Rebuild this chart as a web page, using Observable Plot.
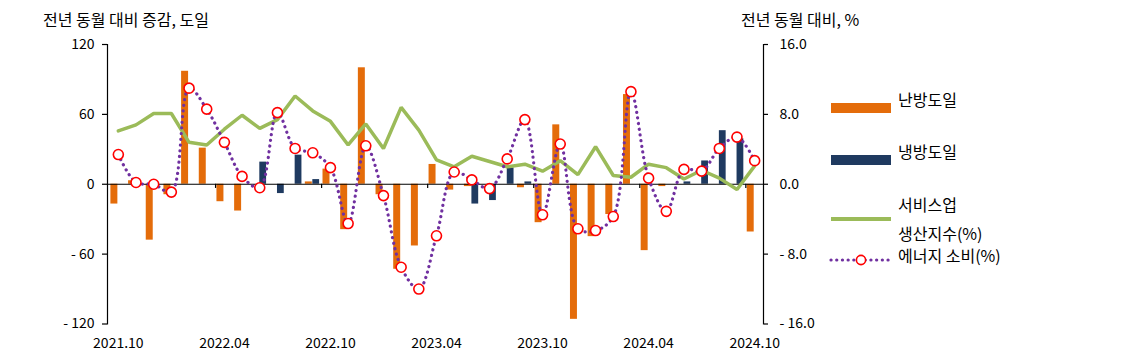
<!DOCTYPE html>
<html><head><meta charset="utf-8">
<script src="https://cdn.jsdelivr.net/npm/d3@7"></script>
<script src="https://cdn.jsdelivr.net/npm/@observablehq/plot@0.6"></script>
<style>
body{margin:0;background:#fff;font-family:"Noto Sans CJK KR","Noto Sans",sans-serif;}
#wrap{position:relative;width:1129px;height:363px;overflow:hidden;}
.t{position:absolute;font-size:16px;color:#000;white-space:nowrap;line-height:1;}
.sw{position:absolute;}
</style></head><body>
<div id="wrap"></div>
<script>
// ---- data ----
const months = ["2021.10","2021.11","2021.12","2022.01","2022.02","2022.03","2022.04","2022.05","2022.06","2022.07","2022.08","2022.09",
  "2022.10","2022.11","2022.12","2023.01","2023.02","2023.03","2023.04","2023.05","2023.06","2023.07","2023.08","2023.09",
  "2023.10","2023.11","2023.12","2024.01","2024.02","2024.03","2024.04","2024.05","2024.06","2024.07","2024.08","2024.09","2024.10"];
// 난방도일 (전년 동월 대비 증감, 도일)
const heating = [-17, 3, -48, -9, 97, 31, -15, -23, null, null, null, 2,
  13, -39, 100, -9, -73, -53, 17, -5, -2, null, null, -3,
  -33, 51, -116, -45, -26, 77, -57, -2, null, null, null, null, -41];
// 냉방도일 (전년 동월 대비 증감, 도일)
const cooling = [null, null, null, null, null, null, null, null, 19, -8, 25, 4,
  null, null, null, null, null, null, null, null, -17, -14, 14, 2,
  null, null, null, null, null, null, null, null, 2, 20, 46, 39, null];
// 서비스업 생산지수 (%)
const services = [6.1, 6.8, 8.1, 8.1, 4.8, 4.5, 6.3, 7.9, 6.4, 7.4, 10.1, 8.4,
  7.2, 4.5, 6.9, 4.1, 8.8, 6.2, 2.8, 2.0, 3.2, 2.6, 2.0, 2.3,
  1.5, 2.7, 1.1, 4.3, 1.0, 0.8, 2.3, 1.9, 0.6, 1.6, 0.7, -0.6, 2.1];
// 에너지 소비 (%)
const energy = [3.4, 0.2, 0.0, -0.9, 11.0, 8.6, 4.8, 0.9, -0.4, 8.2, 4.1, 3.6,
  1.9, -4.5, 4.4, -1.3, -9.5, -12.0, -5.9, 1.4, 0.5, -0.5, 2.9, 7.4,
  -3.5, 4.6, -5.1, -5.3, -3.7, 10.6, 0.7, -3.1, 1.7, 1.5, 4.1, 5.4, 2.7];
const labelMonths = ["2021.10","2022.04","2022.10","2023.04","2023.10","2024.04","2024.10"];
const boundaryMonths = ["2022.04","2022.10","2023.04","2023.10","2024.04","2024.10"];
const leftTicks = [-120, -60, 0, 60, 120];
const rightTicks = [-16, -8, 0, 8, 16];

// ---- colors ----
const cOrange = "#E46C0A", cNavy = "#1F3A60", cGreen = "#9BBB59", cPurple = "#7030A0", cRed = "#FF0000";

const k = 120 / 16; // right axis (%) -> left axis units
const rows = months.map((m, i) => ({m, heating: heating[i], cooling: cooling[i], services: services[i], energy: energy[i]}));

const W = 1129, H = 363, mL = 107, mR = 366, mT = 44, mB = 39.5, inL = 2;
const bw = (W - mR - mL - inL) / months.length;

const fmtL = d => d < 0 ? "- " + Math.abs(d) : String(d);
const fmtR = v => { const d = v / k; return d < 0 ? "- " + Math.abs(d).toFixed(1) : d.toFixed(1); };

const chart = Plot.plot({
  width: W, height: H,
  marginLeft: mL, marginRight: mR, marginTop: mT, marginBottom: mB,
  style: {fontFamily: '"Noto Sans CJK KR","Noto Sans",sans-serif', fontSize: "14px", color: "#000", background: "transparent"},
  x: {type: "band", domain: months, padding: 0, round: false, insetLeft: inL, axis: null},
  y: {domain: [-120, 120], axis: null},
  marks: [
    Plot.barY(rows.filter(d => d.heating != null), {x: "m", y: "heating", fill: cOrange, insetLeft: 1.4, insetRight: 9.3}),
    Plot.barY(rows.filter(d => d.cooling != null), {x: "m", y: "cooling", fill: cNavy, insetLeft: 8.9, insetRight: 2.0}),
    Plot.ruleY([0], {stroke: "#000", strokeWidth: 1.2}),
    Plot.ruleX(boundaryMonths, {x: d => d, y1: 0, y2: -3.6, dx: -bw / 2, stroke: "#000", strokeWidth: 1.2}),
    Plot.line(rows, {x: "m", y: d => d.services * k, stroke: cGreen, strokeWidth: 3.5, strokeLinejoin: "miter"}),
    Plot.line(rows, {x: "m", y: d => d.energy * k, stroke: cPurple, strokeWidth: 3.2, strokeDasharray: "0.1 5.6", strokeLinecap: "round", curve: "catmull-rom"}),
    Plot.dot(rows, {x: "m", y: d => d.energy * k, r: 5, fill: "#fff", stroke: cRed, strokeWidth: 1.6}),
    Plot.frame({anchor: "left", stroke: "#000", strokeWidth: 1.2}),
    Plot.frame({anchor: "right", stroke: "#000", strokeWidth: 1.2}),
    Plot.axisY({anchor: "left", ticks: leftTicks, tickFormat: fmtL, tickSize: 5, tickPadding: 8, label: null, strokeWidth: 1.2}),
    Plot.axisY({anchor: "right", ticks: rightTicks.map(d => d * k), tickFormat: fmtR, tickSize: 4, tickPadding: 12, label: null, strokeWidth: 1.2}),
    Plot.axisX(labelMonths, {anchor: "bottom", tickSize: 0, tickPadding: 14, label: null})
  ]
});

const wrap = document.getElementById("wrap");
wrap.appendChild(chart);
chart.style.position = "absolute"; chart.style.left = "0"; chart.style.top = "0";

function addText(txt, left, top) {
  const d = document.createElement("div");
  d.className = "t"; d.textContent = txt;
  d.style.left = left + "px"; d.style.top = top + "px";
  wrap.appendChild(d);
}
function addSwatch(svg, left, top, w, h) {
  const d = document.createElement("div");
  d.className = "sw"; d.style.left = left + "px"; d.style.top = top + "px";
  d.innerHTML = `<svg width="${w}" height="${h}">${svg}</svg>`;
  wrap.appendChild(d);
}
// axis titles
addText("전년 동월 대비 증감, 도일", 43, 11);
addText("전년 동월 대비, %", 741, 11);
// legend
addSwatch(`<rect x="0" y="0" width="60" height="10" fill="${cOrange}"/>`, 831, 94, 60, 10);
addText("난방도일", 898, 91);
addSwatch(`<rect x="0" y="0" width="60" height="10" fill="${cNavy}"/>`, 831, 146, 60, 10);
addText("냉방도일", 898, 143);
addSwatch(`<rect x="0" y="0" width="60" height="4" fill="${cGreen}"/>`, 831, 202, 60, 4);
addText("서비스업", 898, 196);
addText("생산지수(%)", 898, 225);
addSwatch(`<line x1="3" y1="7" x2="63" y2="7" stroke="${cPurple}" stroke-width="3.2" stroke-dasharray="0.1 5.6" stroke-linecap="round"/>
  <circle cx="33" cy="7" r="4.6" fill="#fff" stroke="${cRed}" stroke-width="1.6"/>`, 828, 248, 66, 14);
addText("에너지  소비(%)", 898, 247);
</script>
</body></html>
